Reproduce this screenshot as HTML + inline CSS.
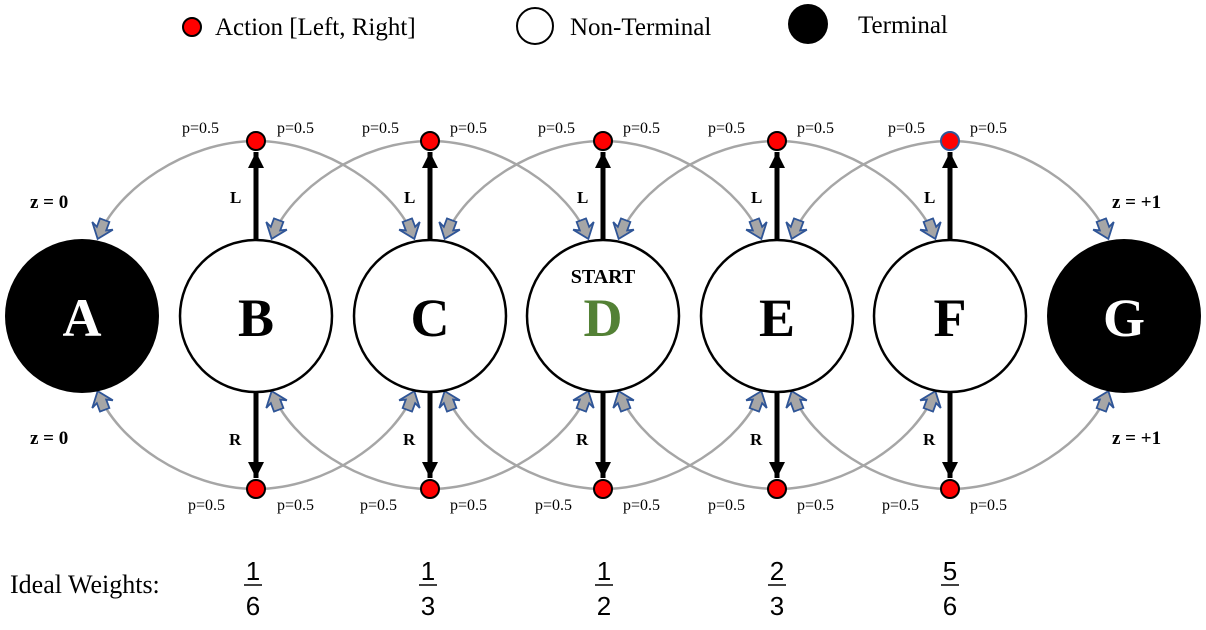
<!DOCTYPE html>
<html><head><meta charset="utf-8"><style>
html,body{margin:0;padding:0;background:#fff}
svg{display:block}
.p{font-family:"Liberation Serif",serif;font-size:16px}
.lr{font-family:"Liberation Serif",serif;font-size:17px;font-weight:bold}
.n{font-family:"Liberation Serif",serif;font-size:54px;font-weight:bold;text-anchor:middle}
.z{font-family:"Liberation Serif",serif;font-size:19px;font-weight:bold}
.lg{font-family:"Liberation Serif",serif;font-size:25px}
.fr{font-family:"Liberation Sans",sans-serif;font-size:26px;text-anchor:middle}
</style></head><body>
<svg width="1206" height="630" viewBox="0 0 1206 630" xmlns="http://www.w3.org/2000/svg">
<defs>
<marker id="ga" markerUnits="userSpaceOnUse" markerWidth="30" markerHeight="30" refX="20" refY="12" orient="auto" viewBox="0 0 30 24">
<polygon points="1,7 10,7 7,1 21,12 7,23 10,17 1,17" fill="#a6a6a6" stroke="#2f5597" stroke-width="1.8" stroke-linejoin="miter"/>
</marker>
<marker id="ba" markerUnits="userSpaceOnUse" markerWidth="20" markerHeight="20" refX="16" refY="8" orient="auto" viewBox="0 0 20 16">
<polygon points="0,0 16,8 0,16" fill="#000"/>
</marker>
</defs>

<!-- legend -->
<circle cx="192" cy="27" r="9" fill="#f00" stroke="#000" stroke-width="2"/>
<text x="215" y="35" class="lg">Action [Left, Right]</text>
<circle cx="535" cy="26" r="18" fill="#fff" stroke="#000" stroke-width="2"/>
<text x="570" y="35" class="lg">Non-Terminal</text>
<circle cx="808" cy="24" r="20" fill="#000"/>
<text x="858" y="33" class="lg">Terminal</text>

<!-- grey arcs -->
<g fill="none" stroke="#a6a6a6" stroke-width="2.5" marker-end="url(#ga)">
<path d="M256 141 C186 141 116 190 98 238"/>
<path d="M256 141 C326 141 396 190 414 238"/>
<path d="M430 141 C360 141 290 190 272 238"/>
<path d="M430 141 C500 141 570 190 588 238"/>
<path d="M603 141 C533 141 463 190 445 238"/>
<path d="M603 141 C673 141 743 190 761 238"/>
<path d="M777 141 C707 141 637 190 619 238"/>
<path d="M777 141 C847 141 917 190 935 238"/>
<path d="M950 141 C880 141 810 190 792 238"/>
<path d="M950 141 C1020 141 1090 190 1108 238"/>
<path d="M256 489 C186 489 116 440 98 392"/>
<path d="M256 489 C326 489 396 440 414 392"/>
<path d="M430 489 C360 489 290 440 272 392"/>
<path d="M430 489 C500 489 570 440 588 392"/>
<path d="M603 489 C533 489 463 440 445 392"/>
<path d="M603 489 C673 489 743 440 761 392"/>
<path d="M777 489 C707 489 637 440 619 392"/>
<path d="M777 489 C847 489 917 440 935 392"/>
<path d="M950 489 C880 489 810 440 792 392"/>
<path d="M950 489 C1020 489 1090 440 1108 392"/>
</g>

<!-- nodes -->
<circle cx="82" cy="316" r="77" fill="#000"/>
<g fill="#fff" stroke="#000" stroke-width="2.5">
<circle cx="256" cy="316" r="76"/>
<circle cx="430" cy="316" r="76"/>
<circle cx="603" cy="316" r="76"/>
<circle cx="777" cy="316" r="76"/>
<circle cx="950" cy="316" r="76"/>
</g>
<circle cx="1124" cy="316" r="77" fill="#000"/>
<text x="82" y="336" class="n" fill="#fff">A</text>
<text x="256" y="336" class="n">B</text>
<text x="430" y="336" class="n">C</text>
<text x="603" y="336" class="n" fill="#538135">D</text>
<text x="603" y="283" class="lr" text-anchor="middle" style="font-size:20px">START</text>
<text x="777" y="336" class="n">E</text>
<text x="950" y="336" class="n">F</text>
<text x="1124" y="336" class="n" fill="#fff">G</text>

<!-- black arrows -->
<g stroke="#000" stroke-width="5" marker-end="url(#ba)">
<line x1="256" y1="240" x2="256" y2="152"/>
<line x1="430" y1="240" x2="430" y2="152"/>
<line x1="603" y1="240" x2="603" y2="152"/>
<line x1="777" y1="240" x2="777" y2="152"/>
<line x1="950" y1="240" x2="950" y2="152"/>
<line x1="256" y1="392" x2="256" y2="478"/>
<line x1="430" y1="392" x2="430" y2="478"/>
<line x1="603" y1="392" x2="603" y2="478"/>
<line x1="777" y1="392" x2="777" y2="478"/>
<line x1="950" y1="392" x2="950" y2="478"/>
</g>

<!-- dots -->
<g fill="#f00" stroke="#000" stroke-width="2">
<circle cx="256" cy="141" r="9"/><circle cx="430" cy="141" r="9"/><circle cx="603" cy="141" r="9"/><circle cx="777" cy="141" r="9"/>
<circle cx="950" cy="141" r="9" stroke="#2f5597"/>
<circle cx="256" cy="489" r="9"/><circle cx="430" cy="489" r="9"/><circle cx="603" cy="489" r="9"/><circle cx="777" cy="489" r="9"/><circle cx="950" cy="489" r="9"/>
</g>

<!-- L / R -->
<g class="lr">
<text x="230" y="203">L</text><text x="404" y="203">L</text><text x="577" y="203">L</text><text x="751" y="203">L</text><text x="924" y="203">L</text>
<text x="229" y="445">R</text><text x="403" y="445">R</text><text x="576" y="445">R</text><text x="750" y="445">R</text><text x="923" y="445">R</text>
</g>

<!-- p labels -->
<g class="p">
<text x="182" y="133">p=0.5</text><text x="277" y="133">p=0.5</text>
<text x="362" y="133">p=0.5</text><text x="450" y="133">p=0.5</text>
<text x="538" y="133">p=0.5</text><text x="623" y="133">p=0.5</text>
<text x="708" y="133">p=0.5</text><text x="797" y="133">p=0.5</text>
<text x="888" y="133">p=0.5</text><text x="970" y="133">p=0.5</text>
<text x="188" y="510">p=0.5</text><text x="277" y="510">p=0.5</text>
<text x="360" y="510">p=0.5</text><text x="450" y="510">p=0.5</text>
<text x="535" y="510">p=0.5</text><text x="623" y="510">p=0.5</text>
<text x="708" y="510">p=0.5</text><text x="797" y="510">p=0.5</text>
<text x="882" y="510">p=0.5</text><text x="970" y="510">p=0.5</text>
</g>

<!-- z labels -->
<g class="z">
<text x="30" y="208">z = 0</text>
<text x="30" y="444">z = 0</text>
<text x="1112" y="208">z = +1</text>
<text x="1112" y="444">z = +1</text>
</g>

<!-- ideal weights -->
<text x="10" y="593" class="lg" style="font-size:26px">Ideal Weights:</text>
<g class="fr">
<text x="253" y="580">1</text><text x="253" y="615">6</text>
<text x="428" y="580">1</text><text x="428" y="615">3</text>
<text x="604" y="580">1</text><text x="604" y="615">2</text>
<text x="777" y="580">2</text><text x="777" y="615">3</text>
<text x="950" y="580">5</text><text x="950" y="615">6</text>
</g>
<g stroke="#000" stroke-width="1.5">
<line x1="244" y1="585" x2="262" y2="585"/>
<line x1="419" y1="585" x2="437" y2="585"/>
<line x1="595" y1="585" x2="613" y2="585"/>
<line x1="768" y1="585" x2="786" y2="585"/>
<line x1="941" y1="585" x2="959" y2="585"/>
</g>
</svg>
</body></html>
